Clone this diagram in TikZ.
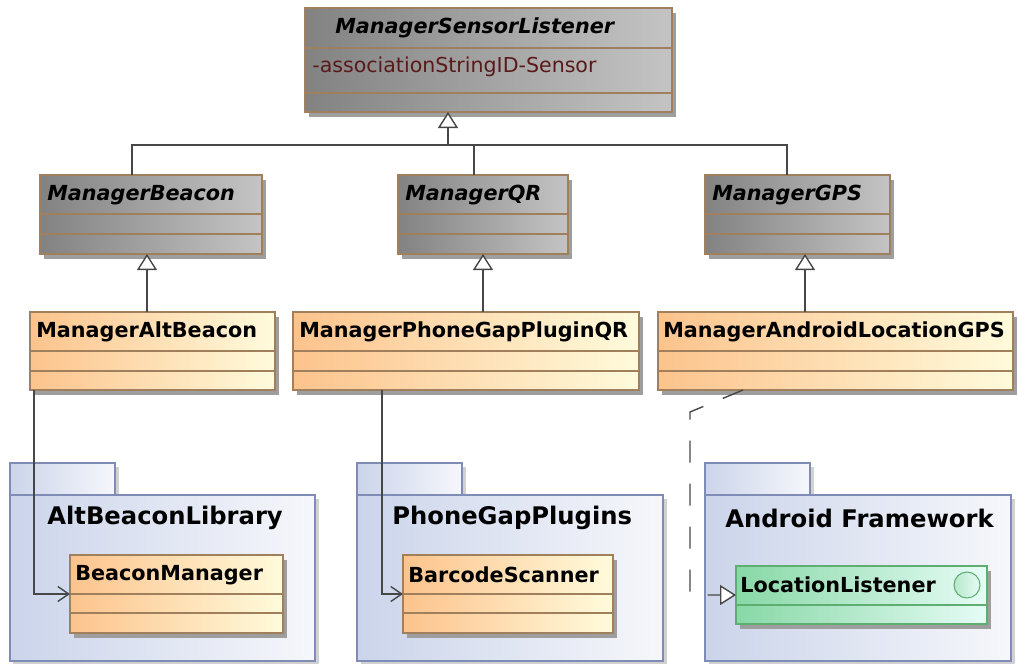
\documentclass[tikz,border=0pt]{standalone}
\usepackage{fontspec}
\setmainfont{DejaVu Sans}
\usetikzlibrary{arrows.meta,fit,shadows,positioning}
\definecolor{clsedge}{HTML}{A0805C}
\definecolor{absleft}{HTML}{828282}
\definecolor{absright}{HTML}{C4C4C4}
\definecolor{impleft}{HTML}{FCC38C}
\definecolor{impright}{HTML}{FFFBDC}
\definecolor{pkgedge}{HTML}{7E8CB6}
\definecolor{pkgleft}{HTML}{CBD4EA}
\definecolor{pkgright}{HTML}{F6F7FB}
\definecolor{ifcedge}{HTML}{5EAE72}
\definecolor{ifcleft}{HTML}{88D8A6}
\definecolor{ifcright}{HTML}{E6FCF6}
\definecolor{attrtext}{HTML}{5A1A1A}
\definecolor{linkgray}{HTML}{474747}
\newcommand{\px}{0.02cm}
\tikzset{
  box/.style={rectangle, inner sep=0pt, outer sep=0pt, line width=0.8pt,
    drop shadow={shadow xshift=0.08cm, shadow yshift=-0.1cm, fill=black!38, opacity=1}},
  absbox/.style={box, draw=clsedge, left color=absleft, right color=absright},
  implbox/.style={box, draw=clsedge, left color=impleft, right color=impright},
  ifcbox/.style={box, draw=ifcedge, left color=ifcleft, right color=ifcright},
  pkgbox/.style={rectangle, inner sep=0pt, outer sep=0pt, line width=0.8pt, draw=pkgedge,
    left color=pkgleft, right color=pkgright,
    drop shadow={shadow xshift=0.07cm, shadow yshift=-0.07cm, fill=black!18, opacity=1}},
  divider/.style={line width=0.8pt},
  title/.style={anchor=west, inner sep=0pt, font=\fontsize{11.8}{14}\selectfont\bfseries},
  abstitle/.style={title, font=\fontsize{11.8}{14}\selectfont\bfseries\itshape},
  pkgtitle/.style={anchor=west, inner sep=0pt, font=\fontsize{13.8}{16}\selectfont\bfseries},
  attr/.style={anchor=west, inner sep=0pt, text=attrtext, font=\fontsize{11.7}{14}\selectfont},
  link/.style={draw=linkgray, line width=0.8pt},
  gen/.style={link, -{Triangle[open, length=0.32cm, width=0.4cm, fill=white]}},
  dep/.style={link, -{Straight Barb[length=0.22cm, width=0.3cm]}},
  real/.style={link, dash pattern=on 0.44cm off 0.42cm,
    -{Triangle[open, length=0.32cm, width=0.4cm, fill=white]}}
}

\begin{document}
\begin{tikzpicture}[x=\px, y=-\px]
\useasboundingbox (0,0) rectangle (1018,663);

% packages
\node[pkgbox, fit={(10,463) (115,495)}] (altT) {};
\node[pkgbox, fit={(10,495) (315,661)}] (alt) {};
\node[pkgtitle] (alt-t) at (47,518) {AltBeaconLibrary};
\node[pkgbox, fit={(357,463) (462,495)}] (pgpT) {};
\node[pkgbox, fit={(357,495) (663,661)}] (pgp) {};
\node[pkgtitle] (pgp-t) at (392,518) {PhoneGapPlugins};
\node[pkgbox, fit={(705,463) (810,495)}] (andT) {};
\node[pkgbox, fit={(705,495) (1011,661)}] (and) {};
\node[pkgtitle] (and-t) at (725,518) {Android Framework};

% abstract managers
\node[absbox, fit={(305,8) (672,112)}] (msl) {};
\node[abstitle] (msl-t) at (335,28) {ManagerSensorListener};
\node[attr] (msl-a) at (312,67) {-associationStringID-Sensor};
\node[absbox, fit={(40,175) (262,254)}] (mbe) {};
\node[abstitle] (mbe-t) at (47,195) {ManagerBeacon};
\node[absbox, fit={(398,175) (568,254)}] (mqr) {};
\node[abstitle] (mqr-t) at (405,195) {ManagerQR};
\node[absbox, fit={(705,175) (890,254)}] (mgp) {};
\node[abstitle] (mgp-t) at (712,195) {ManagerGPS};

% implementations
\node[implbox, fit={(30,312) (275,390)}] (mab) {};
\node[title] (mab-t) at (36,332) {ManagerAltBeacon};
\node[implbox, fit={(293,312) (639,390)}] (mpq) {};
\node[title] (mpq-t) at (299,332) {ManagerPhoneGapPluginQR};
\node[implbox, fit={(658,312) (1013,390)}] (mag) {};
\node[title] (mag-t) at (663,332) {ManagerAndroidLocationGPS};

% library classes
\node[implbox, fit={(70,555) (283,633)}] (bm) {};
\node[title] (bm-t) at (75,575) {BeaconManager};
\node[implbox, fit={(403,555) (613,633)}] (bs) {};
\node[title] (bs-t) at (408,575) {BarcodeScanner};
\node[ifcbox, fit={(736,566) (987,624)}] (ll) {};
\node[title] (ll-t) at (740,585) {LocationListener};
\node[circle, draw=ifcedge, line width=0.6pt, inner sep=0pt, minimum size=0.52cm,
  left color=ifcleft!60, right color=ifcright] (ll-c) at (967,585) {};

% compartments
\foreach \xa/\xb/\yy in {305/672/48, 305/672/93, 40/262/214, 40/262/234,
    398/568/214, 398/568/234, 705/890/214, 705/890/234,
    30/275/351, 30/275/371, 293/639/351, 293/639/371, 658/1013/351, 658/1013/371,
    70/283/594, 70/283/613, 403/613/594, 403/613/613}
  \draw[divider, clsedge] (\xa,\yy) -- (\xb,\yy);
\draw[divider, ifcedge] (736,605) -- (987,605);

% generalizations
\coordinate (jb) at (132,145);
\coordinate (js) at (448,145);
\coordinate (jq) at (474,145);
\coordinate (jg) at (787,145);
\draw[link] (mbe.north -| jb) -- (jb) -- (jg) -- (mgp.north -| jg);
\draw[link] (mqr.north -| jq) -- (jq);
\draw[gen] (js) -- (msl.south -| js);
\coordinate (ga) at (147,0);
\coordinate (gq) at (483,0);
\coordinate (gg) at (805,0);
\draw[gen] (mab.north -| ga) -- (mbe.south -| ga);
\draw[gen] (mpq.north -| gq) -- (mqr.south -| gq);
\draw[gen] (mag.north -| gg) -- (mgp.south -| gg);

% usages
\coordinate (da) at (34,0);
\coordinate (dq) at (382,0);
\draw[dep] (mab.south -| da) |- (bm.west);
\draw[dep] (mpq.south -| dq) |- (bs.west);

% realization
\coordinate (ra) at (743,0);
\coordinate (rb) at (690,412);
\draw[real] (mag.south -| ra) -- (rb) |- (ll.west);
\end{tikzpicture}
\end{document}
